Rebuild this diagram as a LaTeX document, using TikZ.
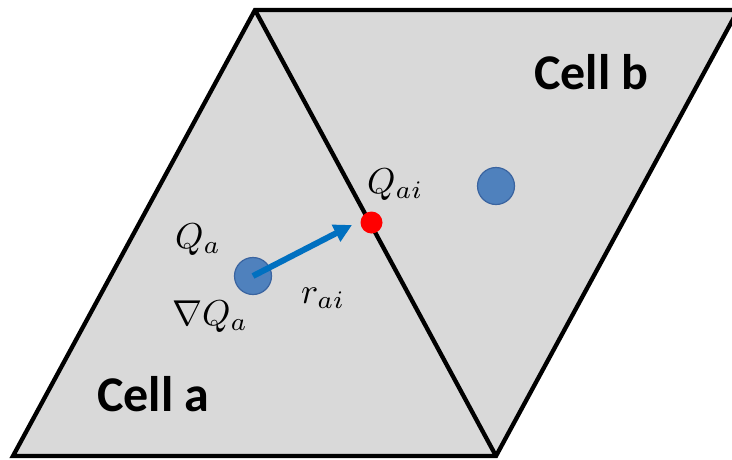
\documentclass[tikz,border=0pt]{standalone}
\usepackage{fontspec}
\usepackage{graphicx}
\newfontfamily\cellfont{Carlito}
\usetikzlibrary{arrows.meta}
\definecolor{cellgray}{HTML}{D9D9D9}
\definecolor{dotblue}{HTML}{4F81BD}
\definecolor{dotedge}{HTML}{3A64A0}
\definecolor{arrowblue}{HTML}{0070C0}
\newcommand{\bigmath}[1]{\scalebox{3.6}{$#1$}}
\tikzset{
  edgeline/.style={line width=4.3pt, line join=miter, black},
  centroid/.style={circle, fill=dotblue, draw=dotedge, line width=1.2pt, minimum size=37pt, inner sep=0pt},
  facepoint/.style={circle, fill=red, minimum size=22pt, inner sep=0pt},
  mathlabel/.style={anchor=base west, inner sep=0pt},
  celllabel/.style={anchor=base west, inner sep=0pt, font=\cellfont\bfseries\fontsize{50}{56}\selectfont},
  vecarrow/.style={arrowblue, line width=6pt, -{Triangle[length=18pt,width=18pt]}}
}
\begin{document}
\begin{tikzpicture}[x=1pt,y=-1pt]
\useasboundingbox (0,0) rectangle (732,459);
\begin{scope}
\clip (0,0) rectangle (732,459);
\coordinate (bl) at (13,456);
\coordinate (tl) at (255,10);
\coordinate (tr) at (738,10);
\coordinate (br) at (496,456);
\fill[cellgray] (bl) -- (tl) -- (tr) -- (br) -- cycle;
\draw[edgeline] (bl) -- (tl) -- (tr) -- (br) -- cycle;
\draw[edgeline] (tl) -- (br);
\end{scope}
\node[centroid] (ca) at (253,276) {};
\node[centroid] (cb) at (496,186) {};
\node[facepoint] (fi) at (371.5,222.5) {};
\coordinate (tip) at (352,225);
\draw[vecarrow] (ca.center) -- (tip);
\node[mathlabel] (qa) at (175,248) {\bigmath{Q_a}};
\node[mathlabel] (gqa) at (172,325) {\bigmath{\nabla Q_a}};
\node[mathlabel] (rai) at (301,303) {\bigmath{r_{ai}}};
\node[mathlabel] (qai) at (367,193) {\bigmath{Q_{ai}}};
\node[celllabel] (la) at (97,411) {Cell a};
\node[celllabel] (lb) at (534,89) {Cell b};
\end{tikzpicture}
\end{document}
